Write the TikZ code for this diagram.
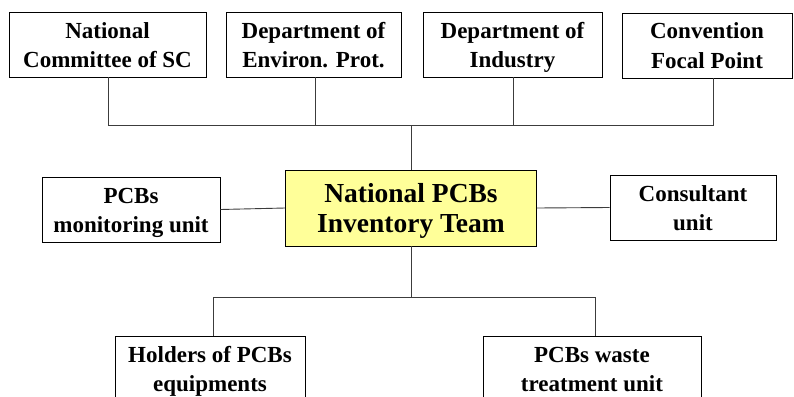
\documentclass[tikz,border=0pt]{standalone}
\usepackage{fontspec}
\setmainfont{Liberation Serif}
\definecolor{boxyellow}{RGB}{255,255,153}
\definecolor{linegray}{RGB}{60,60,60}
\newcommand\tophalf{\rule{0pt}{22pt}}
\newcommand\bothalf{\rule[-6pt]{0pt}{6pt}}
\newcommand\ctophalf{\rule{0pt}{24pt}}
\newcommand\cbothalf{\rule[-6pt]{0pt}{6pt}}
\begin{document}
\begin{tikzpicture}[x=1pt,y=-1pt,
  unitbox/.style={draw=black, line width=0.9pt, fill=white, inner sep=0pt, align=center,
    font=\fontsize{23}{29}\selectfont\bfseries},
  teambox/.style={draw=black, line width=0.9pt, fill=boxyellow, inner sep=0pt, align=center,
    font=\fontsize{27.5}{30}\selectfont\bfseries},
  conn/.style={draw=linegray, line width=0.9pt}]
\useasboundingbox (0,0) rectangle (794,396);
\clip (0,0) rectangle (794,396);
% top row
\node[unitbox, minimum width=197pt, minimum height=65pt] (t1) at (107.5,44.5) {\tophalf National\\Committee of SC\bothalf};
\node[unitbox, minimum width=175pt, minimum height=65pt] (t2) at (313.5,44.5) {\tophalf Department of\\Environ. Prot.\bothalf};
\node[unitbox, minimum width=179pt, minimum height=65pt] (t3) at (512.5,44.5) {\tophalf Department of\\Industry\bothalf};
\node[unitbox, minimum width=170pt, minimum height=65pt] (t4) at (707,45.5) {\tophalf Convention\\Focal Point\bothalf};
% middle row
\node[teambox, minimum width=251pt, minimum height=76pt] (c) at (411,208) {\ctophalf National PCBs\\Inventory Team\cbothalf};
\node[unitbox, minimum width=178pt, minimum height=65pt] (l) at (131,209.5) {\tophalf PCBs\\monitoring unit\bothalf};
\node[unitbox, minimum width=166pt, minimum height=65pt] (r) at (693,207.5) {\tophalf Consultant\\unit\bothalf};
% bottom row
\node[unitbox, minimum width=190pt, minimum height=65pt] (b1) at (210,368.5) {\tophalf Holders of PCBs\\equipments\bothalf};
\node[unitbox, minimum width=218pt, minimum height=65pt] (b2) at (592,368.5) {\tophalf PCBs waste\\treatment unit\bothalf};
% top bus
\coordinate (v1) at (108,125);
\coordinate (v2) at (315,125);
\coordinate (v3) at (513,125);
\coordinate (v4) at (713,125);
\coordinate (vc) at (411,125);
\draw[conn] (v1 |- t1.south) -- (v1) -- (v4) -- (v4 |- t4.south);
\draw[conn] (v2 |- t2.south) -- (v2);
\draw[conn] (v3 |- t3.south) -- (v3);
\draw[conn] (vc) -- (vc |- c.north);
% side links
\draw[conn] (l.east) -- (c.west);
\draw[conn] (c.east) -- (r.west);
% bottom bus
\coordinate (w1) at (213,297);
\coordinate (w2) at (595,297);
\coordinate (wc) at (411,297);
\draw[conn] (wc |- c.south) -- (wc);
\draw[conn] (w1 |- b1.north) -- (w1) -- (w2) -- (w2 |- b2.north);
\end{tikzpicture}
\end{document}
